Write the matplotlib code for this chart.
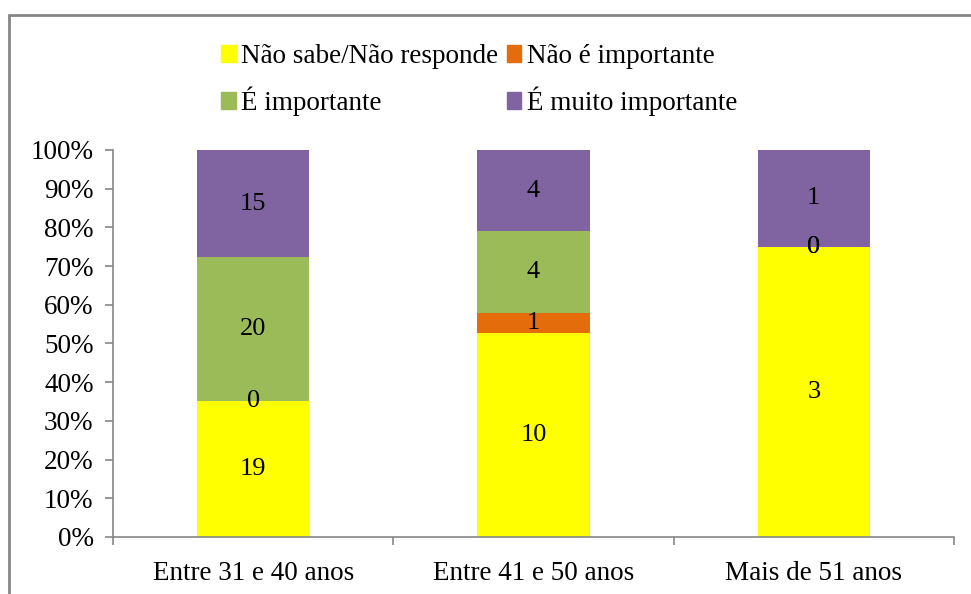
import matplotlib.pyplot as plt
import matplotlib.patches as mpatches
import numpy as np

faixas = ['Entre 31 e 40 anos', 'Entre 41 e 50 anos', 'Mais de 51 anos']
respostas = ['Não sabe/Não responde', 'Não é importante', 'É importante', 'É muito importante']
nao_sabe = [19, 10, 3]
nao_importante = [0, 1, 0]
importante = [20, 4, 0]
muito_importante = [15, 4, 1]
cores = ['#FFFF00', '#E46C0A', '#9BBB59', '#8064A2']

plt.rcParams['font.family'] = 'serif'
plt.rcParams['font.serif'] = ['Liberation Serif', 'DejaVu Serif']
cinza = '#868686'
tam = 19.5

series = np.array([nao_sabe, nao_importante, importante, muito_importante], dtype=float)
totais = series.sum(axis=0)
perc = series / totais * 100

fig = plt.figure(figsize=(9.71, 5.94), dpi=100)
ax = fig.add_axes([0.1164, 0.096, 0.866, 0.6515])

x = np.arange(len(faixas))
base = np.zeros(len(faixas))
for i in range(4):
    ax.bar(x, perc[i], bottom=base, width=0.4, color=cores[i], label=respostas[i])
    for j in range(len(faixas)):
        ax.text(x[j], base[j] + perc[i][j] / 2, str(int(series[i][j])),
                ha='center', va='center', fontsize=19)
    base += perc[i]

ax.set_xlim(-0.5, 2.5)
ax.set_ylim(0, 100)
ax.set_yticks(np.arange(0, 101, 10))
ax.set_yticklabels([f'{v}%' for v in range(0, 101, 10)], fontsize=tam)
ax.set_xticks(x)
ax.set_xticklabels(faixas, fontsize=tam)
ax.set_xticks([-0.5, 0.5, 1.5, 2.5], minor=True)
ax.tick_params(axis='x', which='major', length=0, pad=17)
ax.tick_params(axis='x', which='minor', length=6, color=cinza, width=1.2)
ax.tick_params(axis='y', length=6, color=cinza, width=1.2, pad=8)
for lado in ['top', 'right']:
    ax.spines[lado].set_visible(False)
for lado in ['left', 'bottom']:
    ax.spines[lado].set_color(cinza)
    ax.spines[lado].set_linewidth(1.2)

# moldura externa do gráfico
moldura = mpatches.Rectangle((9 / 971, -0.1), 1.2, 1 - 15 / 594 + 0.1,
                             transform=fig.transFigure, fill=False,
                             edgecolor=cinza, linewidth=2, clip_on=False)
fig.patches.append(moldura)

handles = [mpatches.Patch(color=c) for c in cores]
ordem = [0, 2, 1, 3]
fig.legend([handles[k] for k in ordem], [respostas[k] for k in ordem],
           ncol=2, loc='upper left', bbox_to_anchor=(221 / 971, 1 - 44 / 594),
           frameon=False, fontsize=tam, handlelength=0.55, handleheight=0.55,
           handletextpad=0.2, columnspacing=0.3, labelspacing=0.65,
           borderpad=0, borderaxespad=0)

fig.savefig('out.png', dpi=100)
